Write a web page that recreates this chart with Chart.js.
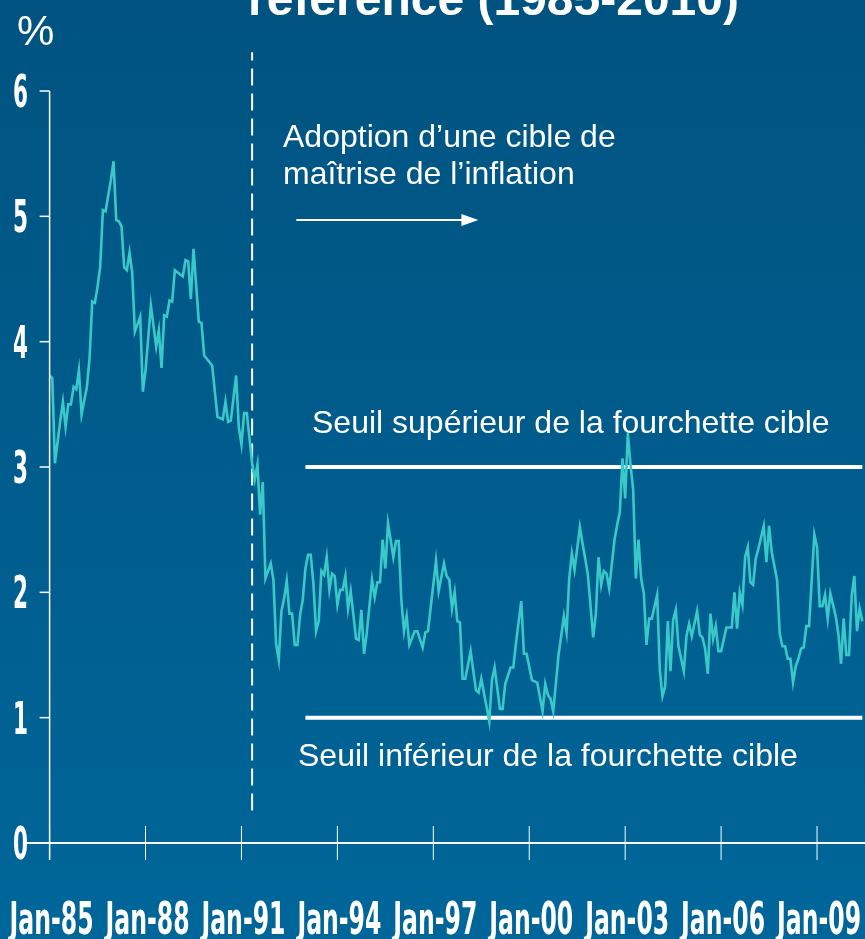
<!DOCTYPE html>
<html lang="fr">
<head>
<meta charset="UTF-8">
<title>Inflation IPC</title>
<script src="https://cdn.jsdelivr.net/npm/chart.js"></script>
<style>
  html, body { margin: 0; padding: 0; background: #005a86; }
  canvas { display: block; }
</style>
</head>
<body>
<canvas id="myChart" width="865" height="939"></canvas>

<script>
// mois depuis janvier 1985
var months = [0,1,2,4,5,6,7,8,9,10,11,12,14,15,16,17,18,19,20,21,23,24,25,26,27,28,29,30,31,32,34,35,36,38,40,41,42,43,44,45,46,47,50,51,52,53,54,56,57,58,61,63,65,66,67,68,70,71,72,73,74,76,77,78,79,80,81,83,84,85,86,87,88,89,90,91,92,93,94,95,96,97,98,99,100,101,102,103,104,105,106,107,108,109,110,111,112,113,115,116,117,118,119,121,122,123,124,125,126,127,129,130,131,132,133,134,135,137,138,140,141,142,145,146,148,149,150,151,152,153,154,155,156,158,160,161,162,165,166,167,169,170,171,173,174,175,177,178,179,181,183,185,186,187,188,189,191,193,194,195,196,197,199,200,201,202,204,205,206,207,208,209,210,212,213,214,215,216,217,218,219,220,221,222,223,224,225,226,228,229,230,231,232,233,234,235,236,238,239,240,241,242,243,244,245,246,247,248,249,250,251,252,254,256,257,258,259,260,261,262,263,264,265,266,268,269,270,271,273,274,275,276,277,278,279,280,281,282,283,284,285,287,288,289,290,291,292,293,294,295,296,297,298,299,300,301,302,303,304,305];
var inflation = [3.73,3.71,3.03,3.37,3.52,3.32,3.50,3.50,3.64,3.62,3.77,3.42,3.64,3.87,4.32,4.31,4.44,4.60,5.05,5.04,5.29,5.44,4.97,4.96,4.92,4.59,4.57,4.71,4.55,4.08,4.20,3.60,3.77,4.29,3.96,4.09,3.79,4.21,4.20,4.33,4.32,4.57,4.52,4.65,4.64,4.34,4.74,4.16,4.15,3.89,3.81,3.40,3.38,3.52,3.36,3.37,3.73,3.32,3.18,3.43,3.43,3.03,2.90,3.02,2.62,2.88,2.11,2.23,2.10,1.59,1.46,1.85,1.95,2.09,1.83,1.83,1.58,1.58,1.82,1.94,2.19,2.30,2.30,2.07,1.69,1.77,2.17,2.14,2.28,2.02,2.15,2.13,1.90,2.02,2.02,2.13,1.87,2.01,1.63,1.62,1.86,1.51,1.67,2.10,1.96,2.08,2.08,2.42,2.19,2.55,2.28,2.41,2.41,1.94,1.69,1.81,1.58,1.69,1.69,1.56,1.68,1.69,2.25,2.01,2.23,2.13,2.10,1.87,2.00,1.77,1.76,1.31,1.31,1.53,1.22,1.20,1.31,0.97,1.30,1.40,1.07,1.07,1.27,1.40,1.40,1.59,1.93,1.51,1.51,1.30,1.28,1.05,1.27,1.18,1.15,1.05,1.50,1.81,1.68,2.11,2.31,2.18,2.52,2.39,2.27,2.14,1.64,1.83,2.28,2.06,2.17,2.15,2.03,2.42,2.54,2.64,3.07,2.75,3.27,3.02,2.82,2.11,2.42,2.11,1.99,1.58,1.79,1.79,1.98,1.38,1.17,1.25,1.77,1.37,1.78,1.86,1.57,1.37,1.65,1.75,1.65,1.75,1.85,1.66,1.64,1.55,1.35,1.83,1.63,1.73,1.53,1.53,1.72,1.72,2.00,1.71,2.00,1.90,2.28,2.36,2.08,2.06,2.27,2.35,2.53,2.24,2.53,2.32,2.10,1.67,1.57,1.57,1.47,1.47,1.28,1.41,1.47,1.55,1.56,1.73,1.73,2.46,2.36,1.89,1.89,1.98,1.79,1.99,1.90,1.81,1.67,1.43,1.79,1.50,1.50,1.97,2.13,1.69,1.87,1.77];

var xTickMonths = [0, 36, 72, 108, 144, 180, 216, 252, 288];
var xTickLabels = ['Jan-85', 'Jan-88', 'Jan-91', 'Jan-94', 'Jan-97', 'Jan-00', 'Jan-03', 'Jan-06', 'Jan-09'];
var yTicks = [0, 1, 2, 3, 4, 5, 6];

// fourchette cible et adoption de la cible
var seuilSuperieur = 3;
var seuilInferieur = 1;
var debutFourchette = 96;
var finFourchette = 305;
var moisAdoption = 76;

var dados = [];
for (var i = 0; i < months.length; i++) {
    dados.push({ x: months[i], y: inflation[i] });
}

var narrow = '"Liberation Sans Narrow", "DejaVu Sans Condensed", sans-serif';
var arial = '"Liberation Sans", Arial, sans-serif';

// texte gras étroit : la police est comprimée horizontalement
function texteEtroit(ctx, txt, x, y, size, align, largeurRef, refTxt) {
    ctx.save();
    ctx.font = 'bold ' + size + 'px ' + narrow;
    var k = largeurRef / ctx.measureText(refTxt).width;
    ctx.textAlign = align;
    ctx.textBaseline = 'alphabetic';
    ctx.translate(x, y);
    ctx.scale(k, 1);
    ctx.fillText(txt, 0, 0);
    ctx.restore();
}

// fond, axes et textes
var decor = {
    id: 'decor',
    beforeDraw: function (chart) {
        var ctx = chart.ctx;
        var g = ctx.createLinearGradient(0, 0, 0, chart.height);
        g.addColorStop(0, '#005380');
        g.addColorStop(1, '#006699');
        ctx.save();
        ctx.fillStyle = g;
        ctx.fillRect(0, 0, chart.width, chart.height);
        ctx.restore();
    },
    afterDraw: function (chart) {
        var ctx = chart.ctx;
        var xs = chart.scales.x;
        var ys = chart.scales.y;
        var x0 = xs.getPixelForValue(0);
        var y0 = ys.getPixelForValue(0);
        ctx.save();
        ctx.strokeStyle = 'white';
        ctx.fillStyle = 'white';

        // axe y
        ctx.lineWidth = 1.5;
        ctx.beginPath();
        ctx.moveTo(x0, ys.getPixelForValue(6));
        ctx.lineTo(x0, y0 + 17);
        ctx.stroke();
        yTicks.forEach(function (v) {
            var y = ys.getPixelForValue(v);
            ctx.beginPath();
            ctx.moveTo(x0 - 10, y);
            ctx.lineTo(x0, y);
            ctx.stroke();
            texteEtroit(ctx, String(v), 28, y + 16, 44, 'right', 15, '0');
        });

        // axe x
        ctx.lineWidth = 2;
        ctx.beginPath();
        ctx.moveTo(25, y0);
        ctx.lineTo(chart.width, y0);
        ctx.stroke();
        ctx.lineWidth = 1;
        xTickMonths.forEach(function (m, k) {
            var x = xs.getPixelForValue(m);
            ctx.beginPath();
            ctx.moveTo(x, y0 - 17);
            ctx.lineTo(x, y0 + 17);
            ctx.stroke();
            texteEtroit(ctx, xTickLabels[k], x + 2, 934, 45, 'center', 84, 'Jan-85');
        });

        // flèche
        var ay = ys.getPixelForValue(4.97);
        var ax1 = xs.getPixelForValue(92.6);
        var ax2 = xs.getPixelForValue(160.9);
        ctx.lineWidth = 2;
        ctx.beginPath();
        ctx.moveTo(ax1, ay);
        ctx.lineTo(ax2 - 14, ay);
        ctx.stroke();
        ctx.beginPath();
        ctx.moveTo(ax2, ay);
        ctx.lineTo(ax2 - 17, ay - 6);
        ctx.lineTo(ax2 - 17, ay + 6);
        ctx.closePath();
        ctx.fill();

        // textes
        ctx.font = 'bold 48px ' + arial;
        ctx.textAlign = 'left';
        ctx.fillText('référence (1985-2010)', 248, 15);
        ctx.font = '42px ' + arial;
        ctx.fillText('%', 17, 45);
        ctx.font = '32px ' + arial;
        ctx.fillText('Adoption d\u2019une cible de', 283, 147);
        ctx.fillText('maîtrise de l\u2019inflation', 283, 184);
        ctx.fillText('Seuil supérieur de la fourchette cible', 312, 433);
        ctx.fillText('Seuil inférieur de la fourchette cible', 298, 766);
        ctx.restore();
    }
};

var config = {
    type: 'line',
    data: {
        datasets: [{
            label: 'Inflation',
            data: dados,
            borderColor: '#3ac9c9',
            borderWidth: 2.6,
            pointRadius: 0,
            tension: 0
        }, {
            label: 'Seuil supérieur',
            data: [{ x: debutFourchette, y: seuilSuperieur }, { x: finFourchette, y: seuilSuperieur }],
            borderColor: 'white',
            borderWidth: 4,
            pointRadius: 0
        }, {
            label: 'Seuil inférieur',
            data: [{ x: debutFourchette, y: seuilInferieur }, { x: finFourchette, y: seuilInferieur }],
            borderColor: 'white',
            borderWidth: 4,
            pointRadius: 0
        }, {
            label: 'Adoption',
            data: [{ x: moisAdoption, y: 0.26 }, { x: moisAdoption, y: 6.31 }],
            borderColor: 'white',
            borderWidth: 2,
            borderDash: [17, 8],
            pointRadius: 0,
            clip: false
        }]
    },
    options: {
        responsive: false,
        animation: false,
        layout: { autoPadding: false, padding: { top: 91, left: 0, right: 0, bottom: 0 } },
        plugins: { legend: { display: false }, tooltip: { enabled: false } },
        scales: {
            x: {
                type: 'linear',
                min: 0,
                max: 306,
                grid: { display: false },
                border: { display: false },
                ticks: { display: false },
                afterFit: function (s) { s.height = 96; }
            },
            y: {
                min: 0,
                max: 6,
                grid: { display: false },
                border: { display: false },
                ticks: { display: false },
                afterFit: function (s) { s.width = 49.6; }
            }
        }
    },
    plugins: [decor]
};

var myChart = new Chart(document.getElementById('myChart'), config);
</script>
</body>
</html>
